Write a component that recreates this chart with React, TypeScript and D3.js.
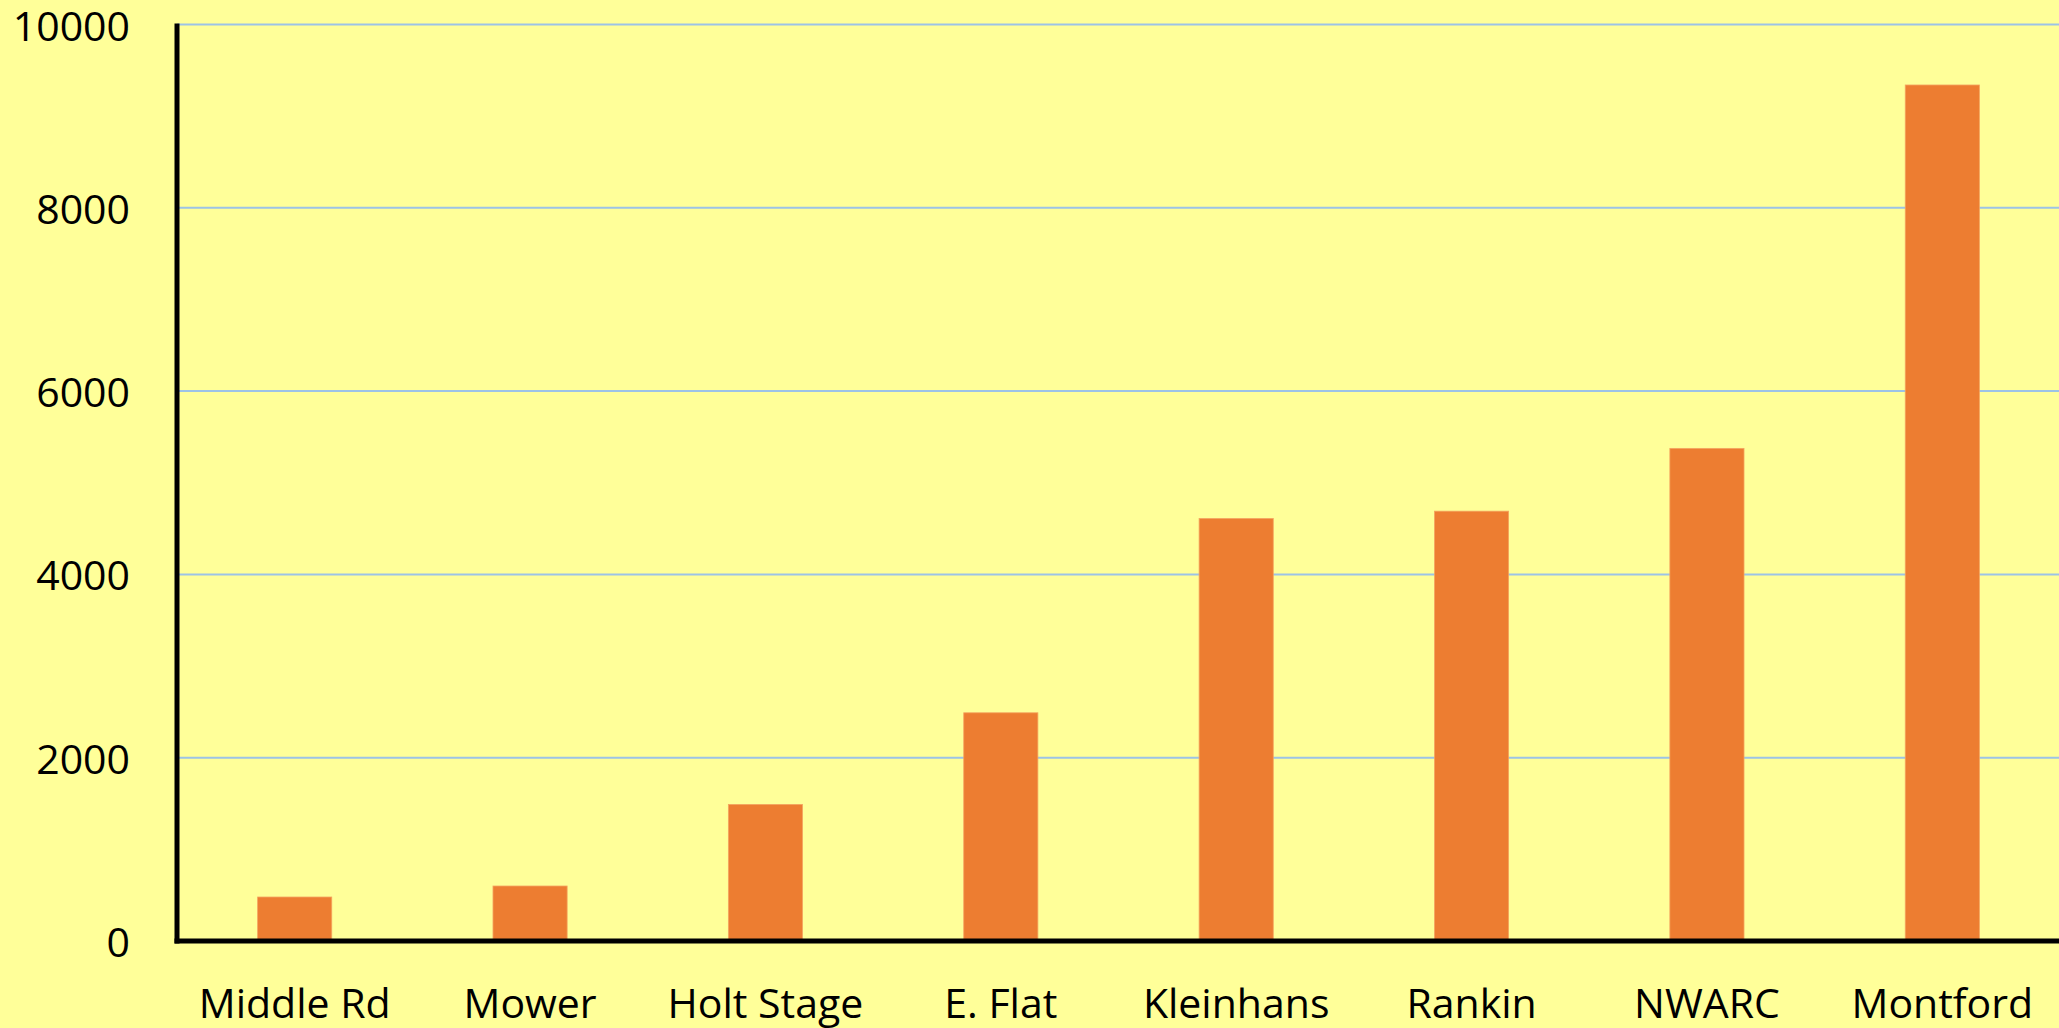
import React from "react";
import * as d3 from "d3";

const categories = ["Middle Rd", "Mower", "Holt Stage", "E. Flat", "Kleinhans", "Rankin", "NWARC", "Montford"];
const values = [480, 600, 1490, 2490, 4610, 4690, 5375, 9340];
const yTicks = [0, 2000, 4000, 6000, 8000, 10000];

const W = 2059;
const H = 1028;
const left = 177;
const right = 2059;
const top = 24.5;
const bottom = 941;

export default function App() {
  const x = d3.scaleBand<string>().domain(categories).range([left, right + 1]).paddingInner(0.685).paddingOuter(0.3425);
  const y = d3.scaleLinear().domain([0, 10000]).range([bottom, top]);
  const font = "'Open Sans', sans-serif";
  return (
    <svg width={W} height={H} style={{ position: "absolute", left: 0, top: 0, display: "block" }}>
      <rect x={0} y={0} width={W} height={H} fill="#FFFF99" />
      {yTicks.filter((t) => t > 0).map((t) => (
        <line key={t} x1={left} x2={right} y1={y(t)} y2={y(t)} stroke="#9DC3E6" strokeWidth={2} />
      ))}
      {categories.map((c, i) => (
        <rect key={c} x={x(c)} y={y(values[i])} width={x.bandwidth()} height={bottom - y(values[i])} fill="#ED7D31" stroke="#F4A460" strokeWidth={0.8} />
      ))}
      <line x1={left} x2={left} y1={top - 1} y2={bottom + 2.5} stroke="#000" strokeWidth={5} />
      <line x1={left - 2.5} x2={right} y1={bottom} y2={bottom} stroke="#000" strokeWidth={5} />
      {yTicks.map((t) => (
        <text key={t} x={130} y={y(t)} textAnchor="end" dominantBaseline="central" fontFamily={font} fontSize={41} fill="#000">
          {t}
        </text>
      ))}
      {categories.map((c) => (
        <text key={c} x={(x(c) as number) + x.bandwidth() / 2} y={1018} textAnchor="middle" fontFamily={font} fontSize={41} fill="#000">
          {c}
        </text>
      ))}
    </svg>
  );
}
